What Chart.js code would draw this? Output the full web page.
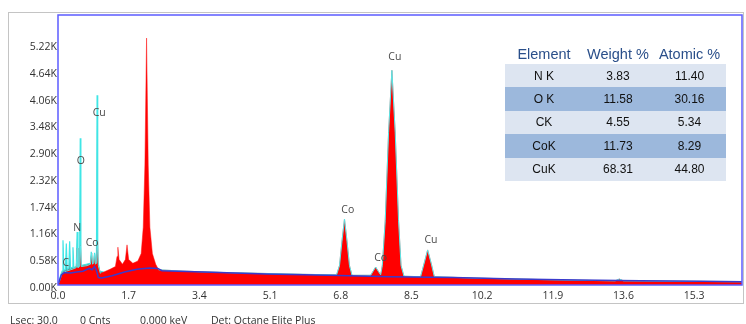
<!DOCTYPE html>
<html>
<head>
<meta charset="utf-8">
<script src="https://cdn.jsdelivr.net/npm/chart.js@4/dist/chart.umd.min.js"></script>
<style>
  body { margin: 0; background: #fff; }
  #wrap { position: relative; width: 746px; height: 324px; }
  #spectrum { position: absolute; left: 0; top: 0; }
  #quant { position: absolute; left: 505px; top: 44px; border-collapse: collapse; font-family: "Liberation Sans", Arial, sans-serif; }
  #quant th { font-weight: normal; font-size: 14.5px; color: #2a4f8a; height: 20px; padding: 0; text-align: center; }
  #quant td { font-size: 12px; color: #111; height: 23.4px; padding: 0; text-align: center; }
  #quant tr.light td { background: #dde5f1; }
  #quant tr.dark td { background: #9cb8dc; }
  #statusBar { position: absolute; left: 0; top: 313px; font-family: "Open Sans", sans-serif; font-size: 10.5px; color: #333; line-height: 14px; }
  #statusBar span { position: absolute; white-space: nowrap; }
</style>
</head>
<body>
<div id="wrap">
  <canvas id="spectrum" width="746" height="324"></canvas>
  <table id="quant"></table>
  <div id="statusBar"></div>
</div>
<script>
// Red spectrum (keV, counts in K)
var spectrumKeV = [0, 0.05, 0.10, 0.20, 0.30, 0.40, 0.44, 0.46, 0.48, 0.52, 0.54, 0.56, 0.70, 0.78, 0.81, 0.83, 0.86, 0.88, 0.90, 0.93, 0.95, 0.97,
    1.02, 1.10, 1.25, 1.38, 1.42, 1.44, 1.47, 1.55, 1.62, 1.66, 1.70, 1.80, 1.92, 2.00, 2.05, 2.09, 2.13, 2.17, 2.21, 2.27, 2.35, 2.42,
    3.0, 4.0, 5.0, 6.0, 6.70, 6.77, 6.83, 6.89, 6.95, 7.01, 7.07, 7.52, 7.58, 7.64, 7.70, 7.76, 7.80, 7.87, 7.95, 8.03, 8.11, 8.19, 8.25,
    8.32, 8.72, 8.80, 8.89, 8.98, 9.05, 10.0, 11.0, 12.0, 13.4, 13.5, 13.6, 15.0, 16.45];
var spectrumCounts = [0, 0.12, 0.26, 0.30, 0.33, 0.36, 0.38, 0.80, 0.38, 0.40, 0.85, 0.40, 0.42, 0.45, 0.69, 0.45, 0.48, 0.67, 0.45, 0.48, 0.95, 0.42,
    0.25, 0.28, 0.34, 0.40, 0.62, 0.82, 0.55, 0.45, 0.55, 0.87, 0.55, 0.47, 0.52, 0.68, 1.25, 2.60, 5.35, 2.60, 1.25, 0.68, 0.45, 0.33,
    0.30, 0.27, 0.25, 0.23, 0.22, 0.42, 0.95, 1.43, 0.95, 0.42, 0.21, 0.21, 0.30, 0.39, 0.30, 0.22, 0.42, 1.40, 3.30, 4.65, 3.30, 1.40, 0.42,
    0.19, 0.18, 0.45, 0.76, 0.45, 0.18, 0.15, 0.13, 0.11, 0.09, 0.13, 0.09, 0.08, 0.07];

// Cyan spectrum, light elements region
var lightKeV = [0, 0.06, 0.10, 0.12, 0.14, 0.18, 0.20, 0.22, 0.26, 0.28, 0.30, 0.34, 0.36, 0.38, 0.44, 0.46, 0.48, 0.52, 0.535, 0.55,
    0.78, 0.80, 0.82, 0.86, 0.88, 0.90, 0.925, 0.94, 0.955, 1.00, 1.10];
var lightCounts = [0, 0.20, 0.30, 0.97, 0.32, 0.33, 0.90, 0.34, 0.36, 0.95, 0.36, 0.38, 0.82, 0.38, 0.40, 1.15, 0.40, 0.42, 3.18, 0.42,
    0.47, 0.72, 0.47, 0.50, 0.70, 0.50, 0.55, 4.11, 0.55, 0.30, 0.28];

// Background fit
var bkgKeV = [0, 0.08, 0.15, 0.30, 0.45, 0.60, 0.75, 0.82, 0.88, 0.93, 0.97, 1.05, 1.3, 1.6, 1.9, 2.2, 2.4, 2.5, 3.5, 5.0, 6.5, 8.0, 9.5, 11.0, 12.5, 14.0, 15.5, 16.45];
var bkgCounts = [0, 0.22, 0.27, 0.26, 0.28, 0.30, 0.36, 0.33, 0.40, 0.30, 0.16, 0.15, 0.20, 0.28, 0.34, 0.37, 0.36, 0.31, 0.28, 0.24, 0.21, 0.18, 0.16, 0.13, 0.11, 0.09, 0.08, 0.07];

// Peak labels
var peakNames = ['C', 'N', 'O', 'Cu', 'Co', 'Co', 'Co', 'Cu', 'Cu'];
var peakKeV = [0.19, 0.46, 0.55, 0.99, 0.82, 6.97, 7.76, 8.10, 8.97];
var peakLabelCounts = [0.48, 1.23, 2.68, 3.72, 0.91, 1.62, 0.58, 4.93, 0.97];

var xTicks = [0, 1.7, 3.4, 5.1, 6.8, 8.5, 10.2, 11.9, 13.6, 15.3];
var yTicks = [0, 0.58, 1.16, 1.74, 2.32, 2.90, 3.48, 4.06, 4.64, 5.22];

// Quantification table
var elements = ['N K', 'O K', 'CK', 'CoK', 'CuK'];
var weightPct = ['3.83', '11.58', '4.55', '11.73', '68.31'];
var atomicPct = ['11.40', '30.16', '5.34', '8.29', '44.80'];

var statusItems = ['Lsec: 30.0', '0 Cnts', '0.000 keV', 'Det: Octane Elite Plus'];
var statusX = [10, 80, 140, 211];

function toPoints(xs, ys) {
    var pts = [];
    for (var i = 0; i < xs.length; i++) {
        pts.push({x: xs[i], y: ys[i]});
    }
    return pts;
}

// table
var table = document.getElementById('quant');
var html = '<tr><th style="width:78px">Element</th><th style="width:70px">Weight %</th><th style="width:73px">Atomic %</th></tr>';
for (var i = 0; i < elements.length; i++) {
    html += '<tr class="' + (i % 2 ? 'dark' : 'light') + '"><td>' + elements[i] + '</td><td>' + weightPct[i] + '</td><td>' + atomicPct[i] + '</td></tr>';
}
table.innerHTML = html;

var statusBar = document.getElementById('statusBar');
for (var j = 0; j < statusItems.length; j++) {
    var s = document.createElement('span');
    s.style.left = statusX[j] + 'px';
    s.textContent = statusItems[j];
    statusBar.appendChild(s);
}

var framePlugin = {
    id: 'frame',
    beforeDraw: function(chart) {
        var c = chart.ctx;
        c.save();
        c.fillStyle = '#fff';
        c.fillRect(0, 0, chart.width, chart.height);
        c.strokeStyle = '#c4c4c4';
        c.lineWidth = 1;
        c.strokeRect(8.5, 12.5, 735, 291);
        c.restore();
    },
    afterDatasetsDraw: function(chart) {
        var a = chart.chartArea;
        var c = chart.ctx;
        c.save();
        c.strokeStyle = '#5c5cff';
        c.lineWidth = 1.5;
        c.strokeRect(a.left, a.top, a.right - a.left, a.bottom - a.top);
        // peak labels
        var xs = chart.scales.x, ys = chart.scales.y;
        c.fillStyle = '#4a4a4a';
        c.font = '10.5px "Open Sans", sans-serif';
        c.textAlign = 'center';
        c.textBaseline = 'middle';
        for (var i = 0; i < peakNames.length; i++) {
            c.fillText(peakNames[i], xs.getPixelForValue(peakKeV[i]), ys.getPixelForValue(peakLabelCounts[i]));
        }
        c.restore();
    }
};

var ctx = document.getElementById('spectrum').getContext('2d');
var chart = new Chart(ctx, {
    type: 'line',
    data: {
        datasets: [
            {
                data: toPoints(lightKeV, lightCounts),
                borderColor: '#3fe6e6',
                backgroundColor: 'rgba(80,120,120,0.9)',
                borderWidth: 1.2,
                fill: 'origin',
                pointRadius: 0,
                tension: 0,
                order: 4
            },
            {
                // filled spectrum
                data: toPoints(spectrumKeV, spectrumCounts),
                borderColor: '#ff1010',
                backgroundColor: '#ff0000',
                borderWidth: 0.5,
                fill: 'origin',
                pointRadius: 0,
                tension: 0,
                order: 3
            },
            {
                // cyan outline on the same spectrum, hidden over the red-only peak
                data: toPoints(spectrumKeV, spectrumCounts),
                borderColor: '#55eaea',
                borderWidth: 1,
                fill: false,
                pointRadius: 0,
                tension: 0,
                order: 2,
                segment: {
                    borderColor: function(s) {
                        return (s.p0.parsed.x >= 1.0 && s.p1.parsed.x <= 2.45) ? 'rgba(0,0,0,0)' : '#55eaea';
                    }
                }
            },
            {
                data: toPoints(bkgKeV, bkgCounts),
                borderColor: '#3a3acc',
                borderWidth: 1.5,
                fill: false,
                pointRadius: 0,
                tension: 0,
                order: 1
            }
        ]
    },
    options: {
        responsive: false,
        animation: false,
        layout: { padding: { left: 0, top: 15, right: 4, bottom: 0 } },
        plugins: { legend: { display: false }, tooltip: { enabled: false } },
        scales: {
            x: {
                type: 'linear',
                min: 0,
                max: 16.45,
                afterBuildTicks: function(scale) {
                    scale.ticks = xTicks.map(function(v) { return {value: v}; });
                },
                afterFit: function(scale) { scale.height = 39; },
                grid: { display: false, drawTicks: false },
                border: { display: false },
                ticks: {
                    padding: 5,
                    maxRotation: 0,
                    autoSkip: false,
                    color: '#333',
                    font: { family: 'Open Sans', size: 10.5 },
                    callback: function(v) { return v.toFixed(1); }
                }
            },
            y: {
                min: 0,
                max: 5.85,
                afterBuildTicks: function(scale) {
                    scale.ticks = yTicks.map(function(v) { return {value: v}; });
                },
                afterFit: function(scale) { scale.width = 58; },
                grid: { display: false, drawTicks: false },
                border: { display: false },
                ticks: {
                    padding: 1,
                    labelOffset: 3,
                    autoSkip: false,
                    color: '#333',
                    font: { family: 'Open Sans', size: 10.5 },
                    callback: function(v) { return v.toFixed(2) + 'K'; }
                }
            }
        }
    },
    plugins: [framePlugin]
});
</script>
</body>
</html>
